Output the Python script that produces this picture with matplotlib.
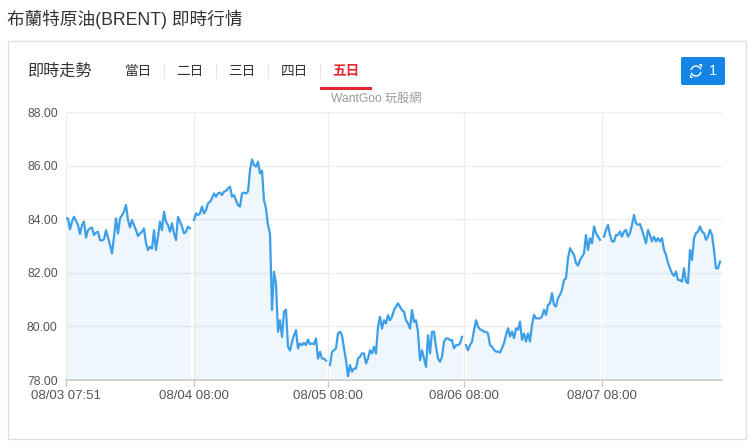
"""Brent crude five-day intraday quote panel."""

import matplotlib
matplotlib.use("Agg")
import matplotlib.pyplot as plt
from matplotlib.patches import Arc, FancyBboxPatch, Polygon, Rectangle
import numpy as np

plt.rcParams["font.family"] = ["Liberation Sans", "Noto Sans CJK TC"]

# one reading every other screen pixel, one list per trading session
day1 = [84.03, 84.03, 83.62, 83.91, 84.09, 83.94, 83.78, 83.45, 83.78, 83.91, 83.32, 83.59,
        83.66, 83.69, 83.41, 83.50, 83.53, 83.22, 83.20, 83.25, 83.59, 83.32, 83.04, 82.72,
        83.35, 84.03, 83.47, 84.03, 84.15, 84.28, 84.53, 83.97, 83.69, 83.97, 83.78, 83.59,
        83.37, 83.47, 83.53, 83.66, 83.10, 82.85, 82.97, 82.91, 83.59, 82.85, 83.35, 83.91,
        83.59, 84.28, 83.91, 83.78, 83.53, 83.85, 83.47, 83.22, 84.09, 83.91, 83.72, 83.47,
        83.53, 83.72, 83.66]
day2 = [83.97, 84.22, 84.15, 84.22, 84.47, 84.22, 84.34, 84.59, 84.65, 84.78, 84.96, 84.84,
        84.96, 84.99, 84.90, 85.03, 85.06, 85.15, 85.21, 84.84, 84.90, 84.71, 84.53, 84.47,
        84.96, 84.99, 84.96, 85.03, 85.83, 86.23, 86.02, 85.96, 86.14, 85.71, 85.81, 84.71,
        84.40, 83.78, 83.47, 80.61, 82.04, 81.60, 79.80, 80.23, 79.61, 80.55, 80.63, 79.24,
        79.10, 79.43, 79.67, 79.86, 79.18, 79.36, 79.30, 79.39, 79.30, 79.51, 79.34, 79.36,
        79.34, 79.55, 78.80, 79.05, 78.80, 78.80, 78.72]
day3 = [78.56, 79.05, 79.11, 79.18, 79.74, 79.80, 79.67, 79.18, 78.74, 78.14, 78.56, 78.31,
        78.43, 78.43, 78.80, 78.87, 78.99, 78.99, 78.62, 78.80, 79.11, 78.99, 79.24, 78.99,
        79.99, 80.36, 79.92, 80.23, 80.11, 80.42, 80.23, 80.36, 80.61, 80.73, 80.86, 80.73,
        80.61, 80.55, 80.23, 80.11, 79.92, 80.61, 80.17, 80.23, 79.80, 78.74, 79.11, 78.80,
        78.49, 79.67, 78.99, 79.80, 79.80, 79.24, 78.80, 78.68, 78.87, 79.43, 79.55, 79.55,
        79.49, 79.49, 79.18, 79.30, 79.30, 79.36, 79.61]
day4 = [79.30, 79.11, 79.30, 79.43, 79.86, 80.23, 79.99, 79.89, 79.86, 79.80, 79.80, 79.74,
        79.30, 79.25, 79.12, 79.06, 79.06, 79.02, 79.19, 79.37, 79.68, 79.93, 79.62, 79.81,
        79.56, 79.93, 79.87, 80.18, 79.50, 79.74, 79.43, 79.74, 79.43, 80.06, 80.43, 80.30,
        80.30, 80.30, 80.37, 80.62, 80.43, 80.80, 80.86, 81.24, 80.80, 80.74, 81.05, 81.18,
        81.36, 81.73, 81.80, 82.54, 82.92, 82.79, 82.67, 82.36, 82.27, 82.48, 82.60, 82.73,
        83.41, 82.85, 83.29, 83.10, 83.73, 83.48, 83.35, 83.23]
day5 = [83.35, 83.60, 83.79, 83.41, 83.17, 83.17, 83.41, 83.41, 83.54, 83.35, 83.54, 83.60,
        83.35, 83.48, 83.79, 84.16, 83.85, 83.79, 83.82, 83.60, 83.35, 83.10, 83.60, 83.41,
        83.17, 83.35, 83.17, 83.29, 83.17, 83.29, 82.85, 82.67, 82.36, 82.17, 81.98, 81.88,
        82.05, 81.73, 81.73, 81.67, 82.17, 81.67, 81.61, 82.85, 82.48, 83.29, 83.48, 83.54,
        83.73, 83.54, 83.48, 83.23, 83.35, 83.60, 83.41, 82.85, 82.17, 82.17, 82.42]
sessions = [day1, day2, day3, day4, day5]
session_starts = [0, 64, 132, 200, 269]

x_ticks = [0, 64, 131, 199, 268]
x_labels = ["08/03 07:51", "08/04 08:00", "08/05 08:00", "08/06 08:00", "08/07 08:00"]
y_ticks = [78, 80, 82, 84, 86, 88]
tabs = ["當日", "二日", "三日", "四日", "五日"]

W, H = 754, 448
LINE = "#3d9fe8"
GRID = "#eeeeee"
TEXT = "#333333"

fig = plt.figure(figsize=(W / 100, H / 100), dpi=100, facecolor="white")

# ── Page furniture, laid out in screen pixels ─────────────────────────────────
ui = fig.add_axes([0, 0, 1, 1])
ui.set_xlim(0, W)
ui.set_ylim(H, 0)
ui.axis("off")

ui.text(7, 19, "布蘭特原油(BRENT) 即時行情", fontsize=12.7, color=TEXT, va="center")
ui.add_patch(Rectangle((7.5, 41.5), 738, 398, fc="white", ec="#dddddd", lw=0.9))
ui.text(28, 71, "即時走勢", fontsize=11.6, color=TEXT, va="center")

for i, tab in enumerate(tabs):
    active = i == len(tabs) - 1
    ui.text(138 + 52 * i, 71, tab, fontsize=9.8, ha="center", va="center",
            color="#e8262d" if active else TEXT, fontweight="bold" if active else "normal")
    if i:
        ui.plot([112 + 52 * i] * 2, [64, 78], color="#e6e6e6", lw=0.8)
ui.add_patch(Rectangle((320, 87), 52, 2.6, fc="#e8262d", ec="none"))
ui.text(331, 98.5, "WantGoo 玩股網", fontsize=8.7, color="#999999", va="center")

# refresh button
ui.add_patch(FancyBboxPatch((681, 57), 44, 28, boxstyle="round,pad=0,rounding_size=2",
                            fc="#1484e6", ec="none"))
ui.add_patch(Arc((696, 71), 10, 10, theta1=190, theta2=340, color="white", lw=1))
ui.add_patch(Arc((696, 71), 10, 10, theta1=10, theta2=160, color="white", lw=1))
ui.add_patch(Polygon([(699, 64), (702, 64), (702, 68)], fc="white", ec="none"))
ui.add_patch(Polygon([(690, 74), (693, 78), (690, 78)], fc="white", ec="none"))
ui.text(712.5, 71, "1", fontsize=10.5, color="white", ha="center", va="center")

# ── Price chart ───────────────────────────────────────────────────────────────
ax = fig.add_axes([66 / W, 1 - 380 / H, 656 / W, 268 / H])
ax.patch.set_alpha(0)
ax.set_xlim(0, 328)
ax.set_ylim(78, 88)

for start, prices in zip(session_starts, sessions):
    x = start + np.arange(len(prices))
    ax.fill_between(x, prices, 78, color=LINE, alpha=0.08, lw=0, zorder=2)
    ax.plot(x, prices, color=LINE, lw=1.6, zorder=3, solid_joinstyle="round")

ax.set_xticks(x_ticks)
ax.set_xticklabels(x_labels)
ax.set_yticks(y_ticks)
ax.set_yticklabels([f"{v:.2f}" for v in y_ticks])
ax.grid(True, color=GRID, lw=1, zorder=1)
ax.tick_params(axis="x", length=5, width=1, color="#cccccc", labelsize=9.5,
               labelcolor="#555555", pad=2.5)
ax.tick_params(axis="y", length=0, labelsize=8.8, labelcolor="#555555", pad=6)
for side in ["top", "right"]:
    ax.spines[side].set_visible(False)
ax.spines["left"].set_color(GRID)
ax.spines["bottom"].set_color("#cccccc")
ax.spines["bottom"].set_linewidth(1.2)
ax.set_axisbelow(True)

fig.savefig("out.png", dpi=100)
plt.close(fig)
